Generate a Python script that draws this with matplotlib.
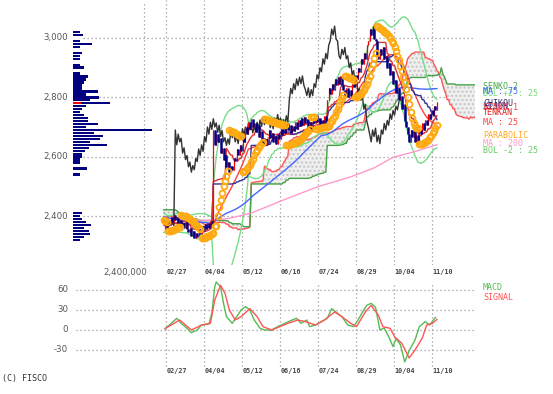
import numpy as np
import pandas as pd
import matplotlib
matplotlib.use("Agg")
import matplotlib.pyplot as plt
from matplotlib.transforms import blended_transform_factory

# ---------------- data ----------------
# closes before the visible window (needed for the moving indicators)
pre_closes = [
    2410, 2418, 2425, 2432, 2440, 2450, 2458, 2465, 2470, 2478,
    2482, 2476, 2468, 2460, 2452, 2445, 2438, 2430, 2425, 2418,
    2410, 2402, 2395, 2388, 2380, 2372, 2366, 2360, 2364, 2370,
    2378, 2385, 2392, 2400, 2408, 2415, 2420, 2412, 2405, 2398,
    2390, 2384, 2378, 2372, 2368, 2362, 2370, 2378, 2386, 2394,
    2400, 2406, 2412, 2418, 2422, 2416, 2410, 2402, 2396, 2390,
    2384, 2378, 2372, 2368, 2364, 2370, 2376, 2382, 2388, 2394,
    2398, 2392, 2386, 2380, 2374, 2368, 2362, 2356, 2352, 2348,
]
# daily closes in the visible window (trading day 0 = first candle)
closes = [
    2350, 2372, 2358, 2385, 2370, 2398, 2380, 2402, 2388, 2396,
    2376, 2386, 2362, 2378, 2360, 2384, 2356, 2346, 2360, 2334,
    2348, 2326, 2342, 2330, 2356, 2340, 2366, 2348, 2372, 2356,
    2376, 2360, 2382, 2368, 2690, 2640, 2676, 2650, 2662, 2612,
    2630, 2590, 2604, 2566, 2582, 2548, 2570, 2556, 2594, 2584,
    2626, 2604, 2640, 2618, 2668, 2650, 2700, 2676, 2716, 2692,
    2728, 2700, 2714, 2682, 2706, 2668, 2688, 2650, 2664, 2638,
    2660, 2642, 2690, 2664, 2680, 2650, 2670, 2644, 2676, 2660,
    2694, 2672, 2700, 2680, 2712, 2690, 2706, 2680, 2702, 2686,
    2716, 2694, 2724, 2702, 2730, 2708, 2734, 2712, 2726, 2698,
    2716, 2694, 2730, 2712, 2742, 2716, 2730, 2706, 2724, 2708,
    2738, 2716, 2790, 2830, 2812, 2846, 2826, 2862, 2840, 2868,
    2846, 2872, 2840, 2826, 2806, 2832, 2800, 2826, 2806, 2846,
    2834, 2876, 2862, 2900, 2886, 2930, 2912, 2948, 2930, 2976,
    2990, 3030, 3010, 3040, 2996, 2990, 2940, 2930, 2962, 2944,
    2968, 2930, 2940, 2900, 2916, 2876, 2890, 2846, 2860, 2816,
    2830, 2790, 2806, 2760, 2776, 2720, 2700, 2676, 2650, 2690,
    2668, 2696, 2650, 2672, 2644, 2690, 2676, 2712, 2690, 2722,
    2706, 2744, 2726, 2756, 2740, 2770, 2758, 2785,
]
# 200-day moving average
ma200_days = [0, 30, 45, 60, 82, 105, 128, 144, 157, 171, 187]
ma200_vals = [2392, 2385, 2392, 2410, 2454, 2498, 2532, 2562, 2598, 2616, 2640]

# MACD panel
macd_days = [1, 4, 9, 12, 16, 19, 23, 26, 31, 33, 35, 36, 39, 41, 43, 47, 50, 53,
             56, 59, 62, 66, 69, 74, 78, 83, 88, 91, 94, 98, 100, 104, 108, 112,
             115, 118, 122, 126, 130, 133, 137, 139, 142, 145, 148, 151, 154, 157,
             159, 162, 165, 168, 172, 175, 179, 182, 186]
macd_vals = [2, 7.5, 17.5, 10, 2.5, -4, 0, 7.5, 9, 25, 65, 72, 65, 40, 20, 10, 20, 30,
             35, 30, 15, 2.5, 0, 0, 5, 10, 15, 17.5, 10, 15, 5, 7.5, 12.5, 17.5,
             32, 27, 20, 7.5, 5, 15, 30, 37, 40, 34, 0, 3, -10, -25,
             -13, -22, -48, -31, -15, 5, 12.5, 7.5, 19]
signal_days = [1, 11, 19, 26, 32, 35, 39, 42, 45, 49, 53, 59, 64, 68, 74, 85, 92, 97,
               104, 110, 117, 122, 128, 132, 138, 142, 147, 150, 155, 158, 163, 168,
               172, 177, 180, 184, 187]
signal_vals = [2, 15, 0, 7.5, 10, 45, 67, 55, 30, 15, 20, 32, 20, 5, 0, 10, 15, 12.5,
               7.5, 15, 27, 20, 10, 5, 27, 37, 22, 5, 2.5, -10, -20, -42,
               -30, -12, 7.5, 10, 16]

# volume by price (10-yen bins), in millions of shares
vp_levels = [3020, 3010, 2990, 2980, 2970, 2950, 2940, 2930, 2910, 2900,
             2880, 2870, 2860, 2850, 2840, 2830, 2820, 2810, 2800, 2790,
             2780, 2770, 2760, 2750, 2740, 2730, 2720, 2710, 2700, 2690,
             2680, 2670, 2660, 2650, 2640, 2630, 2620, 2610, 2600, 2590,
             2580, 2560, 2540, 2410, 2400, 2390, 2380, 2370, 2360, 2350,
             2340, 2330, 2320]
vp_volumes = [0.25, 0.34, 0.25, 0.64, 0.25, 0.30, 0.25, 0.25, 0.25, 0.38,
              0.25, 0.50, 0.45, 0.36, 0.30, 0.30, 0.83, 0.45, 0.89, 0.56,
              1.26, 0.45, 0.30, 0.25, 0.36, 0.50, 0.50, 0.83, 0.45, 2.67,
              0.70, 1.00, 0.92, 0.59, 1.15, 0.53, 0.42, 0.30, 0.30, 0.25,
              0.25, 0.47, 0.25, 0.30, 0.25, 0.30, 0.45, 0.61, 0.36, 0.53,
              0.56, 0.36, 0.25]
current_level = 2780

date_labels = ["02/27", "04/04", "05/12", "06/16", "07/24", "08/29", "10/04", "11/10"]
tick_days = [1.4, 27.4, 53.4, 79.4, 105.4, 131.4, 157.4, 183.4]
price_ticks = [2400, 2600, 2800, 3000]
macd_ticks = [-30, 0, 30, 60]

legend_items = [  # (text, colour, y in price units)
    ("SENKO 2", "#44aa44", 2838),
    ("BOL +2 : 25", "#77dd77", 2812),
    ("MA : 75", "#4466ff", 2818),
    ("CHIKOU", "#333366", 2779),
    ("KIJUN", "#222288", 2770),
    ("SENKO 1", "#ff4444", 2766),
    ("TENKAN", "#dd2222", 2750),
    ("MA : 25", "#ff4444", 2715),
    ("PARABOLIC", "#ffaa22", 2672),
    ("MA : 200", "#ff99cc", 2646),
    ("BOL -2 : 25", "#66cc66", 2622),
]

# ---------------- indicators ----------------
n_pre = len(pre_closes)
allc = pd.Series(pre_closes + closes, index=np.arange(-n_pre, len(closes)), dtype=float)
opens = allc.shift(1).fillna(allc)
highs = np.maximum(opens, allc)
lows = np.minimum(opens, allc)

ma25 = allc.rolling(25).mean()
sd25 = allc.rolling(25).std(ddof=0)
bol_up = ma25 + 2 * sd25
bol_dn = ma25 - 2 * sd25
ma75 = allc.rolling(75).mean()
tenkan = (highs.rolling(9).max() + lows.rolling(9).min()) / 2
kijun = (highs.rolling(26).max() + lows.rolling(26).min()) / 2
span1 = (tenkan + kijun) / 2
span2 = (highs.rolling(52).max() + lows.rolling(52).min()) / 2
span_x = allc.index + 26


def psar(high, low, af0=0.02, afmax=0.2):
    high = np.asarray(high); low = np.asarray(low)
    n = len(high)
    sar = np.zeros(n)
    bull = True
    af = af0
    ep = high[0]
    sar[0] = low[0]
    for i in range(1, n):
        s = sar[i - 1] + af * (ep - sar[i - 1])
        if bull:
            s = min(s, low[i - 1], low[max(i - 2, 0)])
            if low[i] < s:
                bull = False; s = ep; ep = low[i]; af = af0
            elif high[i] > ep:
                ep = high[i]; af = min(af + af0, afmax)
        else:
            s = max(s, high[i - 1], high[max(i - 2, 0)])
            if high[i] > s:
                bull = True; s = ep; ep = high[i]; af = af0
            elif low[i] < ep:
                ep = low[i]; af = min(af + af0, afmax)
        sar[i] = s
    return sar


sar = pd.Series(psar(highs, lows), index=allc.index)

vis = allc.index >= 0
days = allc.index[vis]

# ---------------- figure ----------------
W, H = 553, 394
fig = plt.figure(figsize=(W / 100, H / 100), dpi=100)
fig.patch.set_facecolor("white")


def box(l, t, r, b):
    return [l / W, 1 - b / H, (r - l) / W, (b - t) / H]


px_per_day = 38 / 26.0
x0_px = 163.6
xlim = ((73 - x0_px) / px_per_day, (475 - x0_px) / px_per_day)

ax = fig.add_axes(box(73, 0, 475, 265))
axm = fig.add_axes(box(73, 280, 475, 368))

gridkw = dict(color="#9a9a9a", linestyle=(0, (1, 2.2)), linewidth=0.9)
for a in (ax, axm):
    a.set_xlim(*xlim)
    for s in a.spines.values():
        s.set_visible(False)
    a.tick_params(length=0, labelbottom=False, labelleft=False)
    a.set_xticks([])
    a.set_yticks([])

ax.set_ylim(2235, 3128)
axm.set_ylim(-57, 75)

# grid lines
for t in tick_days:
    ax.axvline(t, **gridkw, zorder=0)
    axm.axvline(t, ymin=0.02, ymax=0.97, **gridkw, zorder=0)
for p in price_ticks:
    ax.axhline(p, xmin=10 / 402, xmax=1, **gridkw, zorder=0)
for m in macd_ticks:
    axm.axhline(m, xmin=3 / 402, xmax=1, **gridkw, zorder=0)

# volume profile (own x scale)
axv = ax.twiny()
axv.set_xlim(0, 2.4 * 402 / 71)
axv.set_axis_off()
axv.axvline(2.4, ymax=262 / 265, **gridkw, zorder=0)
axv.barh(vp_levels, vp_volumes, height=8.0, left=0, color="#000080", zorder=2)
axv.barh([current_level], [0.26], height=8.0, color="#ff0000", zorder=3)

# Ichimoku cloud
s1 = span1.values; s2 = span2.values
m = (span_x >= 0) & (span_x <= 213)
sx = span_x[m]
ax.fill_between(sx, s1[m], s2[m], facecolor="#efefef", edgecolor="#c4c4c4",
                hatch="....", linewidth=0, zorder=1)
ax.plot(sx, s1[m], color="#ff5555", lw=1.0, zorder=2)
ax.plot(sx, s2[m], color="#44a044", lw=1.0, zorder=2)

# Bollinger bands and moving averages
ax.plot(days, bol_up[vis], color="#77dd88", lw=1.0, zorder=3)
ax.plot(days, bol_dn[vis], color="#77dd88", lw=1.0, zorder=3)
ax.plot(ma200_days, ma200_vals, color="#ff99cc", lw=1.0, zorder=3)
ax.plot(days, ma75[vis], color="#4466ff", lw=1.0, zorder=3)
ax.plot(days, ma25[vis], color="#ff4040", lw=1.0, zorder=3)
ax.plot(days, kijun[vis], color="#333399", lw=1.0, zorder=3)
ax.plot(days, tenkan[vis], color="#dd3333", lw=1.0, zorder=3)

# chikou span (close shifted 26 days back)
chx = allc.index - 26
cm = chx >= 6
ax.plot(chx[cm], allc.values[cm], color="#333333", lw=1.0, zorder=3)

# candles: up = hollow red (thin), down = filled navy
o = opens[vis].values; c = allc[vis].values
up = c >= o
ax.vlines(days, lows[vis].values, highs[vis].values, color="#000080", lw=0.6, zorder=4)
ax.vlines(days[up], o[up], c[up], color="#ff0000", lw=0.9, zorder=4)
ax.vlines(days[~up], o[~up], c[~up], color="#000080", lw=1.8, zorder=4.5)

# parabolic SAR
ax.plot(days, sar[vis], linestyle="none", marker="o", markersize=4.2,
        markerfacecolor="none", markeredgecolor="#ffaa11", markeredgewidth=1.3, zorder=5)

# MACD
axm.plot(macd_days, macd_vals, color="#55bb55", lw=1.0, zorder=3)
axm.plot(signal_days, signal_vals, color="#ff5555", lw=1.0, zorder=3)

# ---------------- text ----------------
mono = "DejaVu Sans Mono"
txt = dict(family=mono, fontsize=6.0)
for p in price_ticks:
    y = ax.transData.transform((0, p))[1]
    fig.text(68 / W, y / H, f"{p:,}", ha="right", va="center", color="#555555",
             family="DejaVu Sans", fontsize=6.2)
for mv in macd_ticks:
    y = axm.transData.transform((0, mv))[1]
    fig.text(68 / W, y / H, f"{mv}", ha="right", va="center", color="#555555",
             family="DejaVu Sans", fontsize=6.2)

for t, lab in zip(tick_days, date_labels):
    xp = ax.transData.transform((t, 0))[0]
    for ypx in (272, 371):
        fig.text((xp + 1) / W, 1 - ypx / H, lab, ha="left", va="center",
                 color="#444444", family=mono, fontsize=4.9, fontweight="bold")
fig.text(147 / W, 1 - 272 / H, "2,400,000", ha="right", va="center",
         color="#555555", family="DejaVu Sans", fontsize=6.2)

trans = blended_transform_factory(fig.transFigure, ax.transData)
for lab, col, yv in legend_items:
    ax.text(483 / W, yv, lab, transform=trans, ha="left", va="center",
            color=col, clip_on=False, **txt)
fig.text(483 / W, 1 - 287 / H, "MACD", color="#55bb55", ha="left", va="center", **txt)
fig.text(483 / W, 1 - 298 / H, "SIGNAL", color="#ff5555", ha="left", va="center", **txt)
fig.text(2 / W, 1 - 379 / H, "(C) FISCO", color="#333333", ha="left", va="center", **txt)

fig.savefig("out.png", dpi=100, facecolor="white")
